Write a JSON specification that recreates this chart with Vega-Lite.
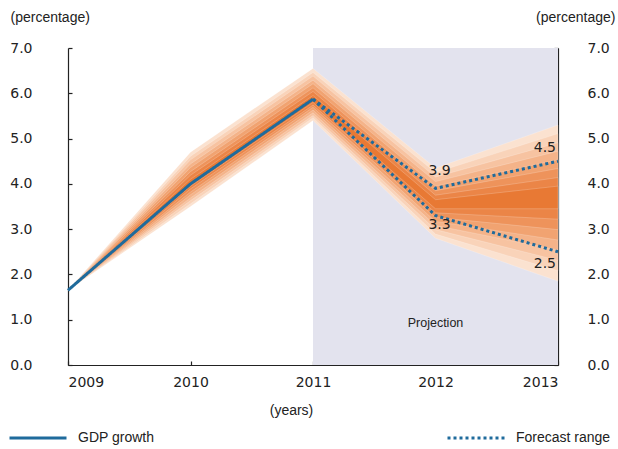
{
  "$schema": "https://vega.github.io/schema/vega-lite/v6.json",
  "width": 490,
  "height": 317,
  "autosize": {"type": "none"},
  "padding": {"left": 68, "top": 48, "right": 60, "bottom": 84},
  "background": "white",
  "config": {
    "view": {"stroke": null},
    "axis": {"grid": false, "zindex": 1, "domainColor": "#222", "tickColor": "#222", "labelColor": "#222", "titleColor": "#222", "labelFont": "DejaVu Sans", "labelFontSize": 14, "titleFont": "Liberation Sans", "titleFontSize": 14, "titleFontWeight": "normal", "tickSize": -4, "domainWidth": 1.2, "tickWidth": 1.2},
    "text": {"font": "DejaVu Sans", "fontSize": 14, "color": "#222"}
  },
  "datasets": {
    "shade": [{"year": 2011, "year_end": 2013, "y0": 0, "y1": 7}],
    "fan": [
      {"band": 1, "year": 2009, "lo": 1.65, "hi": 1.65},
      {"band": 1, "year": 2010, "lo": 3.50, "hi": 4.70},
      {"band": 1, "year": 2011, "lo": 5.40, "hi": 6.55},
      {"band": 1, "year": 2012, "lo": 2.80, "hi": 4.35},
      {"band": 1, "year": 2013, "lo": 1.85, "hi": 5.30},
      {"band": 2, "year": 2009, "lo": 1.65, "hi": 1.65},
      {"band": 2, "year": 2010, "lo": 3.56, "hi": 4.61},
      {"band": 2, "year": 2011, "lo": 5.46, "hi": 6.46},
      {"band": 2, "year": 2012, "lo": 2.89, "hi": 4.25},
      {"band": 2, "year": 2013, "lo": 2.08, "hi": 5.11},
      {"band": 3, "year": 2009, "lo": 1.65, "hi": 1.65},
      {"band": 3, "year": 2010, "lo": 3.63, "hi": 4.53},
      {"band": 3, "year": 2011, "lo": 5.51, "hi": 6.38},
      {"band": 3, "year": 2012, "lo": 2.99, "hi": 4.15},
      {"band": 3, "year": 2013, "lo": 2.31, "hi": 4.91},
      {"band": 4, "year": 2009, "lo": 1.65, "hi": 1.65},
      {"band": 4, "year": 2010, "lo": 3.69, "hi": 4.44},
      {"band": 4, "year": 2011, "lo": 5.57, "hi": 6.29},
      {"band": 4, "year": 2012, "lo": 3.08, "hi": 4.05},
      {"band": 4, "year": 2013, "lo": 2.54, "hi": 4.72},
      {"band": 5, "year": 2009, "lo": 1.65, "hi": 1.65},
      {"band": 5, "year": 2010, "lo": 3.76, "hi": 4.36},
      {"band": 5, "year": 2011, "lo": 5.63, "hi": 6.21},
      {"band": 5, "year": 2012, "lo": 3.17, "hi": 3.95},
      {"band": 5, "year": 2013, "lo": 2.76, "hi": 4.53},
      {"band": 6, "year": 2009, "lo": 1.65, "hi": 1.65},
      {"band": 6, "year": 2010, "lo": 3.82, "hi": 4.27},
      {"band": 6, "year": 2011, "lo": 5.69, "hi": 6.12},
      {"band": 6, "year": 2012, "lo": 3.26, "hi": 3.85},
      {"band": 6, "year": 2013, "lo": 2.99, "hi": 4.34},
      {"band": 7, "year": 2009, "lo": 1.65, "hi": 1.65},
      {"band": 7, "year": 2010, "lo": 3.89, "hi": 4.19},
      {"band": 7, "year": 2011, "lo": 5.74, "hi": 6.04},
      {"band": 7, "year": 2012, "lo": 3.36, "hi": 3.75},
      {"band": 7, "year": 2013, "lo": 3.22, "hi": 4.14},
      {"band": 8, "year": 2009, "lo": 1.65, "hi": 1.65},
      {"band": 8, "year": 2010, "lo": 3.95, "hi": 4.10},
      {"band": 8, "year": 2011, "lo": 5.80, "hi": 5.95},
      {"band": 8, "year": 2012, "lo": 3.45, "hi": 3.65},
      {"band": 8, "year": 2013, "lo": 3.45, "hi": 3.95}
    ],
    "lines": [
      {"series": "GDP growth", "seg": "actual", "year": 2009, "value": 1.65},
      {"series": "GDP growth", "seg": "actual", "year": 2010, "value": 4.0},
      {"series": "GDP growth", "seg": "actual", "year": 2011, "value": 5.87},
      {"series": "Forecast range", "seg": "upper", "year": 2011, "value": 5.87},
      {"series": "Forecast range", "seg": "upper", "year": 2012, "value": 3.9},
      {"series": "Forecast range", "seg": "upper", "year": 2013, "value": 4.5},
      {"series": "Forecast range", "seg": "lower", "year": 2011, "value": 5.87},
      {"series": "Forecast range", "seg": "lower", "year": 2012, "value": 3.3},
      {"series": "Forecast range", "seg": "lower", "year": 2013, "value": 2.5}
    ],
    "midLabels": [
      {"year": 2012, "value": 4.28, "text": "3.9"},
      {"year": 2012, "value": 3.09, "text": "3.3"}
    ],
    "endLabels": [
      {"year": 2013, "value": 4.79, "text": "4.5"},
      {"year": 2013, "value": 2.23, "text": "2.5"}
    ],
    "proj": [{"year": 2012, "value": 0.93, "text": "Projection"}]
  },
  "encoding": {
    "x": {
      "field": "year", "type": "quantitative",
      "scale": {"domain": [2009, 2013], "nice": false, "zero": false},
      "axis": {"title": "(years)", "values": [2009, 2010, 2011, 2012, 2013], "format": "d", "labelPadding": 14, "titleX": 223, "titleY": 45, "titleAlign": "center", "titleBaseline": "middle"}
    }
  },
  "layer": [
    {
      "data": {"name": "shade"},
      "mark": {"type": "rect", "color": "#e3e3ee"},
      "encoding": {
        "x2": {"field": "year_end"},
        "y": {"field": "y0", "type": "quantitative", "scale": {"domain": [0, 7], "nice": false},
              "axis": {"orient": "left", "title": "(percentage)", "values": [0, 1, 2, 3, 4, 5, 6, 7], "format": ".1f", "labelPadding": 40, "titleAngle": 0, "titleX": -58, "titleY": -31, "titleAlign": "left", "titleBaseline": "middle"}},
        "y2": {"field": "y1"}
      }
    },
    {
      "data": {"name": "fan"},
      "mark": {"type": "area", "stroke": "#ffffff", "strokeWidth": 0.4, "strokeOpacity": 0.5},
      "encoding": {
        "y": {"field": "lo", "type": "quantitative", "stack": null, "axis": null},
        "y2": {"field": "hi"},
        "color": {"field": "band", "type": "ordinal", "legend": null,
                  "scale": {"domain": [1, 2, 3, 4, 5, 6, 7, 8], "range": ["#fbe2d0", "#f9d3b9", "#f7c3a1", "#f4b389", "#f1a371", "#ee935b", "#eb8547", "#e87934"]}}
      }
    },
    {
      "data": {"name": "lines"},
      "mark": {"type": "line", "color": "#1f6b9c", "strokeWidth": 3},
      "encoding": {
        "y": {"field": "value", "type": "quantitative", "axis": null},
        "detail": {"field": "seg"},
        "strokeDash": {
          "field": "series", "type": "nominal",
          "scale": {"domain": ["GDP growth", "Forecast range"], "range": [[1, 0], [3, 3]]},
          "legend": {"title": null, "orient": "none", "legendX": -60, "legendY": 360, "direction": "horizontal", "columns": 2, "columnPadding": 286, "padding": 0, "symbolType": "stroke", "symbolSize": 3249, "symbolStrokeWidth": 3, "symbolStrokeColor": "#1f6b9c", "labelOffset": 10, "labelFont": "Liberation Sans", "labelFontSize": 14, "labelColor": "#222"}
        }
      }
    },
    {
      "data": {"name": "midLabels"},
      "mark": {"type": "text", "align": "center", "dx": 4},
      "encoding": {
        "y": {"field": "value", "type": "quantitative", "axis": null},
        "text": {"field": "text"}
      }
    },
    {
      "data": {"name": "endLabels"},
      "mark": {"type": "text", "align": "right", "dx": -2},
      "encoding": {
        "y": {"field": "value", "type": "quantitative",
              "axis": {"orient": "right", "title": "(percentage)", "values": [0, 1, 2, 3, 4, 5, 6, 7], "format": ".1f", "labelPadding": 33, "titleAngle": 0, "titleX": 57, "titleY": -31, "titleAlign": "right", "titleBaseline": "middle"}},
        "text": {"field": "text"}
      }
    },
    {
      "data": {"name": "proj"},
      "mark": {"type": "text", "font": "Liberation Sans", "fontSize": 12.5},
      "encoding": {
        "y": {"field": "value", "type": "quantitative", "axis": null},
        "text": {"field": "text"}
      }
    }
  ],
  "resolve": {"axis": {"y": "independent"}}
}
